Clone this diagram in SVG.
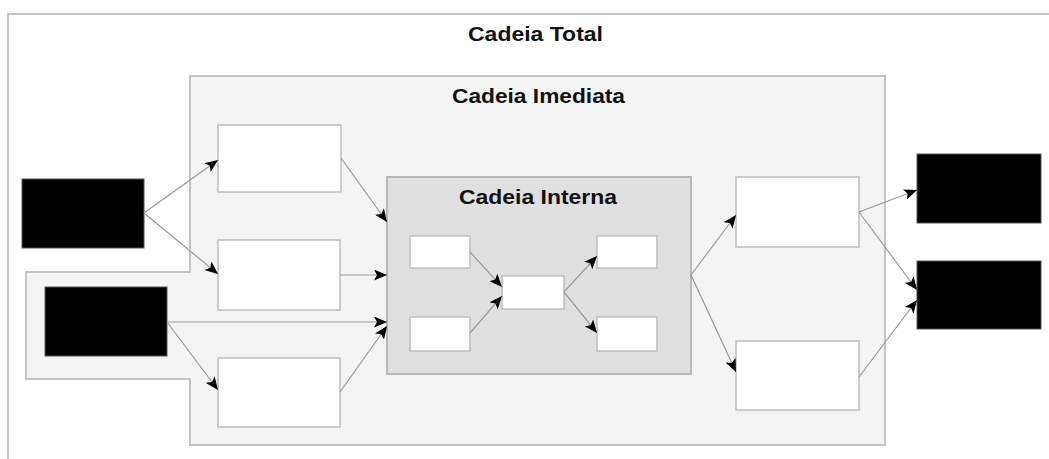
<svg xmlns="http://www.w3.org/2000/svg" width="1049" height="459" viewBox="0 0 1049 459">
<style>
.title{font-family:"Liberation Sans",Arial,sans-serif;font-weight:bold;font-size:21px;fill:#111;text-anchor:start}
.wbox{fill:#fff;stroke:#bdbdbd;stroke-width:1.5}
.kbox{fill:#000;stroke:#555;stroke-width:1}
.conn{stroke:#9a9a9a;stroke-width:1.2;fill:none;marker-end:url(#arr)}
</style>
<defs>
<marker id="arr" viewBox="0 0 13 11" refX="13" refY="5.5" markerWidth="13" markerHeight="11" markerUnits="userSpaceOnUse" orient="auto">
<path d="M0,0 L13,5.5 L0,11 L3,5.5 Z" fill="#000"/>
</marker>
</defs>
<rect width="1049" height="459" fill="#fff"/>
<g id="cadeia-total">
<rect x="8" y="14" width="1060" height="460" fill="#fff" stroke="#c4c4c4" stroke-width="2"/>
<text class="title" x="468" y="41" textLength="135" lengthAdjust="spacingAndGlyphs">Cadeia Total</text>
</g>
<g id="cadeia-imediata">
<path d="M190,76 H885 V445 H190 V379 H26 V272 H190 Z" fill="#f4f4f4" stroke="#c4c4c4" stroke-width="2"/>
<text class="title" x="452" y="103" textLength="173" lengthAdjust="spacingAndGlyphs">Cadeia Imediata</text>
</g>
<g id="cadeia-interna">
<rect x="387" y="177" width="304" height="197" fill="#e0e0e0" stroke="#b8b8b8" stroke-width="2"/>
<text class="title" x="459" y="204" textLength="158" lengthAdjust="spacingAndGlyphs">Cadeia Interna</text>
</g>
<g id="fornecedor-1"><rect class="kbox" x="22" y="179" width="122" height="69"/></g>
<g id="fornecedor-2"><rect class="kbox" x="45" y="287" width="122" height="69"/></g>
<g id="imediato-1"><rect class="wbox" x="218" y="125" width="123" height="67"/></g>
<g id="imediato-2"><rect class="wbox" x="218" y="240" width="122" height="70"/></g>
<g id="imediato-3"><rect class="wbox" x="218" y="358" width="122" height="69"/></g>
<g id="interno-a"><rect class="wbox" x="410" y="236" width="60" height="32"/></g>
<g id="interno-b"><rect class="wbox" x="410" y="317" width="60" height="34"/></g>
<g id="interno-centro"><rect class="wbox" x="502" y="276" width="62" height="33"/></g>
<g id="interno-c"><rect class="wbox" x="597" y="236" width="60" height="32"/></g>
<g id="interno-d"><rect class="wbox" x="597" y="317" width="60" height="34"/></g>
<g id="cliente-imediato-1"><rect class="wbox" x="736" y="177" width="123" height="70"/></g>
<g id="cliente-imediato-2"><rect class="wbox" x="736" y="341" width="123" height="69"/></g>
<g id="cliente-1"><rect class="kbox" x="917" y="154" width="124" height="69"/></g>
<g id="cliente-2"><rect class="kbox" x="917" y="261" width="124" height="68"/></g>
<g id="connectors">
<line class="conn" x1="144" y1="213" x2="218" y2="160"/>
<line class="conn" x1="144" y1="213" x2="218" y2="274"/>
<line class="conn" x1="341" y1="158" x2="387" y2="222"/>
<line class="conn" x1="340" y1="275" x2="387" y2="275"/>
<line class="conn" x1="167" y1="322" x2="387" y2="322"/>
<line class="conn" x1="167" y1="322" x2="218" y2="390"/>
<line class="conn" x1="340" y1="392" x2="387" y2="326"/>
<line class="conn" x1="470" y1="252" x2="502" y2="287"/>
<line class="conn" x1="470" y1="333" x2="502" y2="296"/>
<line class="conn" x1="564" y1="292" x2="597" y2="256"/>
<line class="conn" x1="564" y1="292" x2="597" y2="333"/>
<line class="conn" x1="691" y1="275" x2="736" y2="215"/>
<line class="conn" x1="691" y1="275" x2="736" y2="372"/>
<line class="conn" x1="859" y1="212" x2="917" y2="190"/>
<line class="conn" x1="859" y1="212" x2="917" y2="290"/>
<line class="conn" x1="859" y1="377" x2="917" y2="300"/>
</g>
</svg>
